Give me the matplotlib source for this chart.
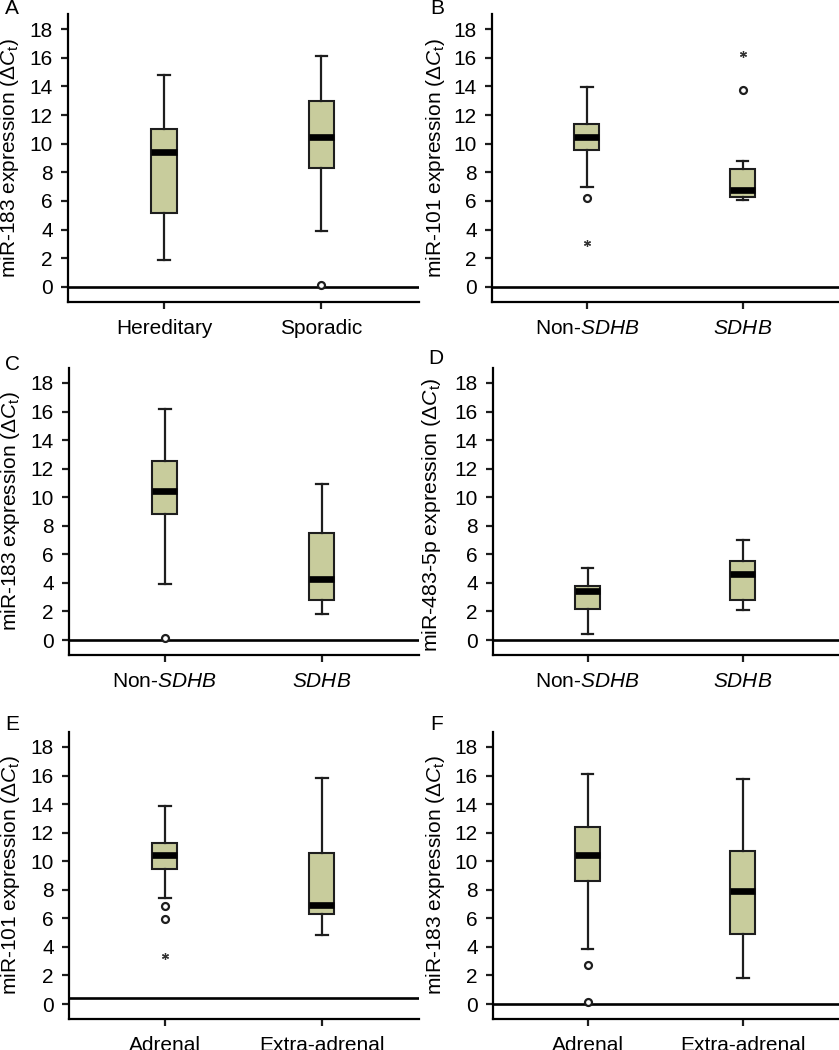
import matplotlib
matplotlib.use('Agg')
import matplotlib.pyplot as plt

plt.rcParams['font.family'] = ['Liberation Sans', 'DejaVu Sans']
plt.rcParams['mathtext.fontset'] = 'custom'
plt.rcParams['mathtext.rm'] = 'Liberation Sans'
plt.rcParams['mathtext.it'] = 'Liberation Sans:italic'

# panel data: (whisker low, Q1, median, Q3, whisker high) per group
letters = ['A', 'B', 'C', 'D', 'E', 'F']
ylabels = ['miR-183', 'miR-101', 'miR-183', 'miR-483-5p', 'miR-101', 'miR-183']
groups_hered = ['Hereditary', 'Sporadic']
groups_sdhb = ['Non-$\\mathit{SDHB}$', '$\\mathit{SDHB}$']
groups_loc = ['Adrenal', 'Extra-adrenal']
xlabels = [groups_hered, groups_sdhb, groups_sdhb, groups_sdhb, groups_loc, groups_loc]

stats_a = [(1.85, 5.15, 9.45, 11.0, 14.8), (3.9, 8.3, 10.45, 12.95, 16.15)]
stats_b = [(6.95, 9.55, 10.5, 11.35, 13.95), (6.05, 6.25, 6.8, 8.2, 8.8)]
stats_c = [(3.9, 8.8, 10.45, 12.55, 16.15), (1.85, 2.8, 4.3, 7.5, 10.95)]
stats_d = [(0.45, 2.15, 3.4, 3.8, 5.05), (2.07, 2.78, 4.6, 5.5, 7.02)]
stats_e = [(7.4, 9.45, 10.42, 11.3, 13.9), (4.82, 6.3, 6.9, 10.6, 15.85)]
stats_f = [(3.87, 8.62, 10.42, 12.38, 16.1), (1.82, 4.87, 7.9, 10.7, 15.78)]
all_stats = [stats_a, stats_b, stats_c, stats_d, stats_e, stats_f]

# outliers: circles and asterisks, per group
circles = [[[], [0.12]], [[6.2], [13.75]], [[0.15], []],
           [[], []], [[6.88, 5.93], []], [[2.75, 0.12], []]]
stars = [[[], []], [[3.1], [16.25]], [[], []],
         [[], []], [[3.35], []], [[], []]]

# horizontal reference line per panel
ref_lines = [0, 0, 0, 0, 0.42, 0]

W, H = 839, 1050
# pixel rects: left, right, top, bottom
rects = [(68, 419, 14, 302), (492, 839, 14, 302),
         (69, 419, 368, 655), (493, 839, 368, 655),
         (69, 419, 732, 1019), (493, 839, 732, 1019)]
letter_pos = [(12, 8), (437, 8), (13, 365), (436, 359), (12, 725), (437, 725)]
label_x = [-0.134, -0.13, -0.134, -0.145, -0.134, -0.133]
label_size = [15, 15, 15, 15.3, 15, 15]
label_y = [0.5, 0.5, 0.5, 0.49, 0.5, 0.5]

box_color = '#c8cc9c'
edge = '#1e1e1e'

fig = plt.figure(figsize=(W / 100, H / 100), dpi=100)

for i in range(6):
    l, r, t, b = rects[i]
    ax = fig.add_axes([l / W, 1 - b / H, (r - l) / W, (b - t) / H])

    bxp_stats = []
    for j, s in enumerate(all_stats[i]):
        bxp_stats.append(dict(whislo=s[0], q1=s[1], med=s[2], q3=s[3],
                              whishi=s[4], fliers=[], label=xlabels[i][j]))
    ax.bxp(bxp_stats, positions=[1, 2], widths=0.16, capwidths=0.075,
           patch_artist=True, showfliers=False,
           boxprops=dict(facecolor=box_color, edgecolor=edge, linewidth=1.5),
           whiskerprops=dict(color=edge, linewidth=1.6),
           capprops=dict(color=edge, linewidth=1.6),
           medianprops=dict(color='black', linewidth=4.8, solid_capstyle='butt'))

    for j in range(2):
        if circles[i][j]:
            ax.plot([j + 1] * len(circles[i][j]), circles[i][j], 'o',
                    mfc='white', mec=edge, ms=5, mew=1.6, zorder=4)
        if stars[i][j]:
            ax.plot([j + 1] * len(stars[i][j]), stars[i][j], marker=(6, 2, 0),
                    ls='none', color='#333333', ms=5, mew=0.9, zorder=4)

    ax.axhline(ref_lines[i], color='black', lw=1.9, zorder=1)

    ax.set_xlim(0.39, 2.62)
    ax.set_ylim(-1.05, 19.05)
    ax.set_yticks(range(0, 19, 2))
    ax.spines['top'].set_visible(False)
    ax.spines['right'].set_visible(False)
    ax.spines['left'].set_linewidth(1.6)
    ax.spines['bottom'].set_linewidth(1.6)
    ax.tick_params(axis='both', labelsize=15, width=1.6, length=5, color=edge)
    ax.tick_params(axis='y', pad=6)
    ax.tick_params(axis='x', pad=7)
    ax.set_ylabel(ylabels[i] + ' expression ($\\Delta\\mathit{C}_{\\mathrm{t}}$)',
                  fontsize=label_size[i])
    ax.yaxis.set_label_coords(label_x[i], label_y[i])

    fig.text(letter_pos[i][0] / W, 1 - letter_pos[i][1] / H, letters[i],
             fontsize=15, ha='center', va='center')

plt.savefig('out.png', dpi=100)
plt.close()
